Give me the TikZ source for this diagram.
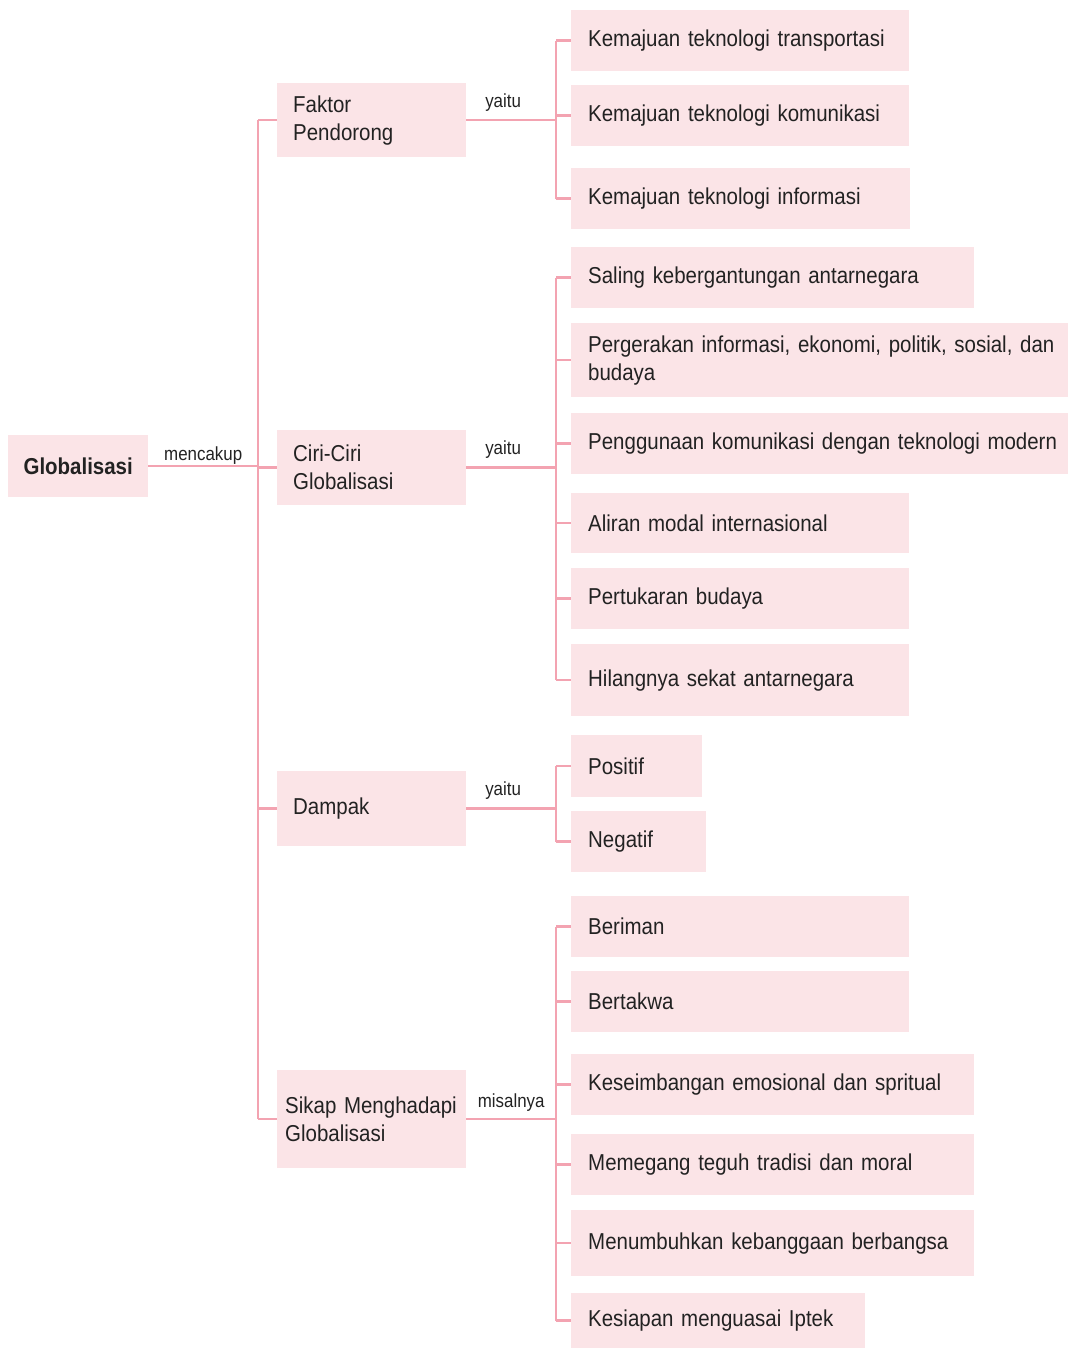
\documentclass[tikz,border=0pt]{standalone}
\usepackage{fontspec}
\setmainfont{Liberation Sans}[FakeStretch=0.89]
\definecolor{boxfill}{HTML}{FBE4E7}
\definecolor{linec}{HTML}{F3A3B1}
\definecolor{txt}{HTML}{222222}
\begin{document}
\begin{tikzpicture}[x=1pt,y=-1pt,
  box/.style={fill=boxfill, draw=none, rectangle, anchor=north west, inner xsep=17pt, inner ysep=0pt, align=left, text=txt, font=\fontsize{23}{28}\selectfont},
  mid/.style={box, inner xsep=16pt, text width=157pt},
  conn/.style={draw=linec, line width=2.5pt},
  lab/.style={font=\fontsize{19}{22}\selectfont, text=txt, inner sep=3pt, above}]
\useasboundingbox (0,0) rectangle (1068,1348);
\coordinate (tx) at (258,0);
\coordinate (bx) at (556,0);
% root
\node[box, inner xsep=0pt, minimum width=140pt, minimum height=62pt, align=center, font=\fontsize{23}{28}\selectfont\bfseries] (glob) at (8,435) {Globalisasi};
% level 2
\node[mid, minimum height=74pt] (fak) at (277,83) {Faktor\\Pendorong};
\node[mid, minimum height=75pt] (ciri) at (277,430) {Ciri-Ciri\\Globalisasi};
\node[mid, minimum height=75pt] (dam) at (277,771) {Dampak};
\node[box, inner xsep=8pt, text width=173pt, minimum height=98pt] (sik) at (277,1070) {\mbox{Sikap Menghadapi}\\Globalisasi};
% leaves
\node[box, text width=304pt, minimum height=61pt] (a1) at (571,10) {\mbox{Kemajuan teknologi transportasi}};
\node[box, text width=304pt, minimum height=61pt] (a2) at (571,85) {\mbox{Kemajuan teknologi komunikasi}};
\node[box, text width=305pt, minimum height=61pt] (a3) at (571,168) {\mbox{Kemajuan teknologi informasi}};
\node[box, text width=369pt, minimum height=61pt] (b1) at (571,247) {\mbox{Saling kebergantungan antarnegara}};
\node[box, text width=463pt, minimum height=74pt] (b2) at (571,323) {\mbox{Pergerakan informasi, ekonomi, politik, sosial, dan}\\budaya};
\node[box, text width=463pt, minimum height=61pt] (b3) at (571,413) {\mbox{Penggunaan komunikasi dengan teknologi modern}};
\node[box, text width=304pt, minimum height=60pt] (b4) at (571,493) {\mbox{Aliran modal internasional}};
\node[box, text width=304pt, minimum height=61pt] (b5) at (571,568) {\mbox{Pertukaran budaya}};
\node[box, text width=304pt, minimum height=72pt] (b6) at (571,644) {\mbox{Hilangnya sekat antarnegara}};
\node[box, text width=97pt, minimum height=62pt] (c1) at (571,735) {\mbox{Positif}};
\node[box, text width=101pt, minimum height=61pt] (c2) at (571,811) {\mbox{Negatif}};
\node[box, text width=304pt, minimum height=61pt] (d1) at (571,896) {\mbox{Beriman}};
\node[box, text width=304pt, minimum height=61pt] (d2) at (571,971) {\mbox{Bertakwa}};
\node[box, text width=369pt, minimum height=61pt] (d3) at (571,1054) {\mbox{Keseimbangan emosional dan spritual}};
\node[box, text width=369pt, minimum height=61pt] (d4) at (571,1134) {\mbox{Memegang teguh tradisi dan moral}};
\node[box, text width=369pt, minimum height=66pt] (d5) at (571,1210) {\mbox{Menumbuhkan kebanggaan berbangsa}};
\node[box, text width=260pt, minimum height=55pt] (d6) at (571,1293) {\mbox{Kesiapan menguasai Iptek}};
% root connectors
\draw[conn] (glob.east) -- (glob.east -| tx) node[lab, midway, yshift=-2pt] {mencakup};
\draw[conn] (fak.west -| tx) -- (sik.west -| tx);
\foreach \n in {fak,ciri,dam,sik} \draw[conn] (\n.west -| tx) -- (\n.west);
% level 2 to branches
\draw[conn] (fak.east) -- (fak.east -| bx) node[lab, pos=0.41, yshift=5pt] {yaitu};
\draw[conn] (ciri.east) -- (ciri.east -| bx) node[lab, pos=0.41, yshift=5pt] {yaitu};
\draw[conn] (dam.east) -- (dam.east -| bx) node[lab, pos=0.41, yshift=5pt] {yaitu};
\draw[conn] (sik.east) -- (sik.east -| bx) node[lab, midway, yshift=4pt] {misalnya};
% branch verticals
\draw[conn] (a1.west -| bx) -- (a3.west -| bx);
\draw[conn] (b1.west -| bx) -- (b6.west -| bx);
\draw[conn] (c1.west -| bx) -- (c2.west -| bx);
\draw[conn] (d1.west -| bx) -- (d6.west -| bx);
\foreach \n in {a1,a2,a3,b1,b2,b3,b4,b5,b6,c1,c2,d1,d2,d3,d4,d5,d6}
  \draw[conn] (\n.west -| bx) -- (\n.west);
\end{tikzpicture}
\end{document}
